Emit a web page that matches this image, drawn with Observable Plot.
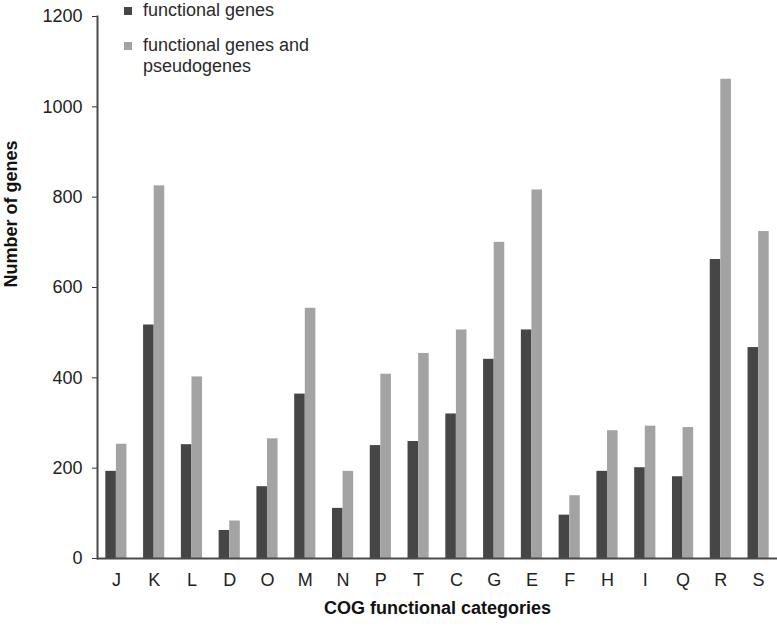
<!DOCTYPE html>
<html>
<head>
<meta charset="utf-8">
<script src="https://cdn.jsdelivr.net/npm/d3@7"></script>
<script src="https://cdn.jsdelivr.net/npm/@observablehq/plot@0.6"></script>
<style>
  html, body { margin: 0; padding: 0; background: #fff; }
  #wrap { position: relative; width: 777px; height: 626px; font-family: "Liberation Sans", Arial, sans-serif; }
  #legend { position: absolute; left: 124px; top: 0px; font-size: 18px; color: #2a2a2a; line-height: 21px; }
  .item { position: relative; padding-left: 19px; }
  .sw { position: absolute; left: 0; width: 8px; height: 8px; }
</style>
</head>
<body>
<div id="wrap"></div>
<script>
const categories = ["J","K","L","D","O","M","N","P","T","C","G","E","F","H","I","Q","R","S"];
const functionalGenes = [193, 517, 252, 62, 159, 364, 111, 250, 259, 320, 441, 506, 96, 193, 201, 181, 662, 467];
const withPseudogenes = [253, 825, 402, 83, 265, 554, 193, 408, 454, 506, 700, 816, 139, 283, 293, 290, 1061, 724];
const seriesNames = ["functional genes", "functional genes and pseudogenes"];
const seriesColors = ["#464646", "#a3a3a3"];
const yTicks = [0, 200, 400, 600, 800, 1000, 1200];

const rows = categories.flatMap((c, i) => [
  {cat: c, series: seriesNames[0], value: functionalGenes[i]},
  {cat: c, series: seriesNames[1], value: withPseudogenes[i]}
]);

const half = 10.6;
const chart = Plot.plot({
  width: 777,
  height: 626,
  marginLeft: 97,
  marginRight: 0,
  marginTop: 16,
  marginBottom: 68,
  style: {fontFamily: "'Liberation Sans', Arial, sans-serif", fontSize: "18px", color: "#222", background: "#fff"},
  x: {domain: categories, paddingInner: 0.44, paddingOuter: 0.22, round: false},
  y: {domain: [0, 1200]},
  color: {domain: seriesNames, range: seriesColors},
  marks: [
    Plot.barY(rows.filter(d => d.series === seriesNames[0]), {x: "cat", y: "value", fill: "series", insetRight: half}),
    Plot.barY(rows.filter(d => d.series === seriesNames[1]), {x: "cat", y: "value", fill: "series", insetLeft: half}),
    Plot.axisY({ticks: yTicks, tickFormat: d3.format("d"), tickSize: 5, tickPadding: 10, label: null, stroke: "#333", fontSize: 18}),
    Plot.axisX({tickSize: 0, tickPadding: 15, label: null, fontSize: 18}),
    Plot.frame({anchor: "left", stroke: "#4a4a4a", strokeWidth: 2}),
    Plot.ruleY([0], {stroke: "#4a4a4a", strokeWidth: 2}),
    Plot.text(["COG functional categories"], {frameAnchor: "bottom", dy: 55, fontWeight: "bold", fontSize: 18, fill: "#111"}),
    Plot.text(["Number of genes"], {frameAnchor: "left", dx: -86, rotate: -90, fontWeight: "bold", fontSize: 18, fill: "#111"})
  ]
});

const wrap = document.getElementById("wrap");
wrap.appendChild(chart);
const legend = document.createElement("div");
legend.id = "legend";
legend.innerHTML =
  `<div class="item" style="margin-bottom:14px"><span class="sw" style="top:7px;background:${seriesColors[0]}"></span>${seriesNames[0]}</div>` +
  `<div class="item" style="width:200px"><span class="sw" style="top:7px;background:${seriesColors[1]}"></span>functional genes and<br>pseudogenes</div>`;
wrap.appendChild(legend);
</script>
</body>
</html>
